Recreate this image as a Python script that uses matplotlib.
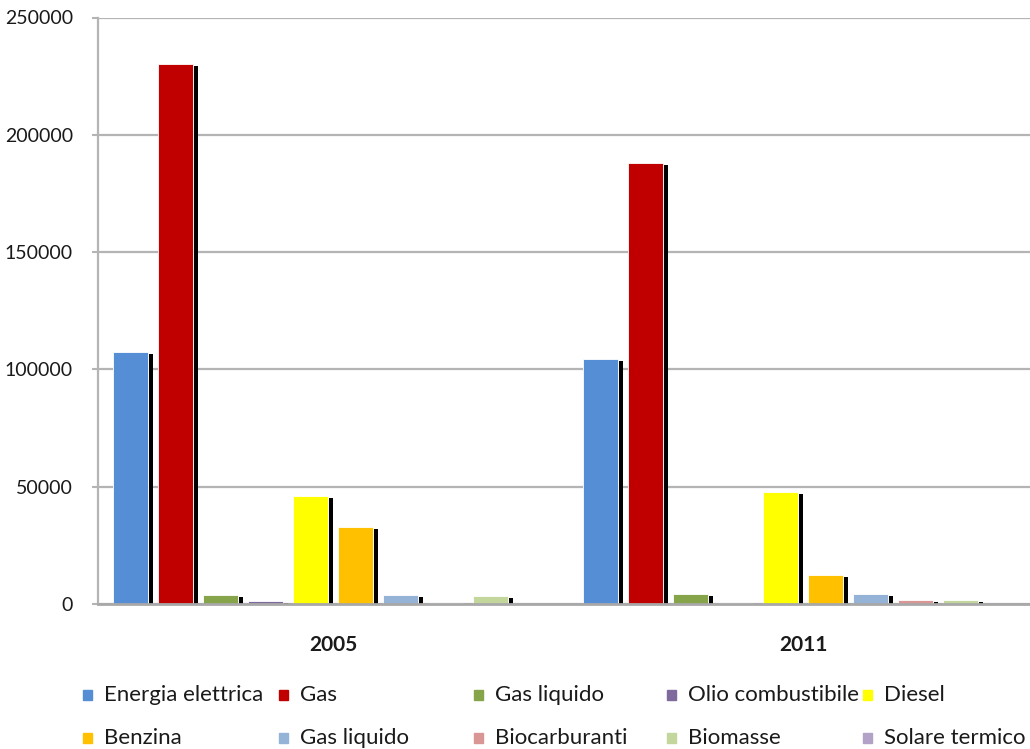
import matplotlib
matplotlib.use("Agg")
import matplotlib.pyplot as plt
import numpy as np

plt.rcParams['font.family'] = ['Lato', 'DejaVu Sans']

# data
years = ["2005", "2011"]
series = ["Energia elettrica", "Gas", "Gas liquido", "Olio combustibile", "Diesel",
          "Benzina", "Gas liquido", "Biocarburanti", "Biomasse", "Solare termico"]
colors = ["#558ED5", "#C00000", "#86A44A", "#7F6A9E", "#FFFF00",
          "#FFC000", "#95B3D7", "#D99694", "#C3D69B", "#B3A2C7"]
vals_2005 = [107500, 230000, 3900, 1300, 46200, 32700, 3700, 400, 3300, 100]
vals_2011 = [104500, 188100, 4400, 500, 47900, 12500, 4400, 1800, 1800, 100]
values = np.array([vals_2005, vals_2011])

W, H = 1030, 749
fig = plt.figure(figsize=(W / 100, H / 100), dpi=100)

# axes area in pixels (extends past the right edge like the cropped original)
ax_l, ax_r, ax_t, ax_b = 98, 1038, 17.5, 604
ax = fig.add_axes([ax_l / W, 1 - ax_b / H, (ax_r - ax_l) / W, (ax_b - ax_t) / H])

px_x = 1.0 / (ax_r - ax_l) * 2.0        # data units per pixel along x (xlim width 2)
px_y = 250000 / (ax_b - ax_t)          # data units per pixel along y

pitch = 45.1 * px_x
bw = 35 * px_x
x = np.arange(len(years))
n = len(series)

for i in range(n):
    xi = x + (i - (n - 1) / 2) * pitch
    v = values[:, i]
    # drop shadow behind each bar
    ax.bar(xi + bw / 2 + 1 * px_x, v, width=4 * px_x, bottom=-2 * px_y, align='edge',
           color='black', zorder=2, linewidth=0)
    ax.bar(xi, v, width=bw, color=colors[i], edgecolor='white', linewidth=0.6, zorder=3)

ax.set_xlim(-0.5, 1.5)
ax.set_ylim(0, 250000)
ax.set_yticks(np.arange(0, 250001, 50000))
ax.set_yticklabels([str(t) for t in range(0, 250001, 50000)], fontsize=14, color='#1a1a1a')
ax.set_xticks(x)
ax.set_xticklabels(years, fontsize=15, fontweight='bold', color='#1a1a1a')
ax.tick_params(axis='x', length=0, pad=22)
ax.tick_params(axis='y', length=4, width=1.5, color='#b4b4b4', pad=14)

ax.yaxis.grid(True, color='#b4b4b4', linewidth=1.6, zorder=0)
ax.set_axisbelow(True)
for s in ['top', 'right']:
    ax.spines[s].set_visible(False)
ax.spines['left'].set_color('#b4b4b4')
ax.spines['left'].set_linewidth(1.6)
ax.spines['bottom'].set_color('#a8a8a8')
ax.spines['bottom'].set_linewidth(2)
ax.spines['bottom'].set_zorder(4)

# legend laid out like the Excel original: 5 columns, 2 rows
col_x = [83, 279, 474, 667, 863]
row_y = [695, 738]
for k, (lab, c) in enumerate(zip(series, colors)):
    cx = col_x[k % 5]
    cy = row_y[k // 5]
    fig.patches.append(plt.Rectangle((cx / W, 1 - (cy + 5) / H), 9 / W, 10 / H,
                                     transform=fig.transFigure, color=c, figure=fig))
    fig.text((cx + 21) / W, 1 - cy / H, lab, fontsize=16, color='#1a1a1a',
             va='center', ha='left')

fig.savefig("out.png", dpi=100)
